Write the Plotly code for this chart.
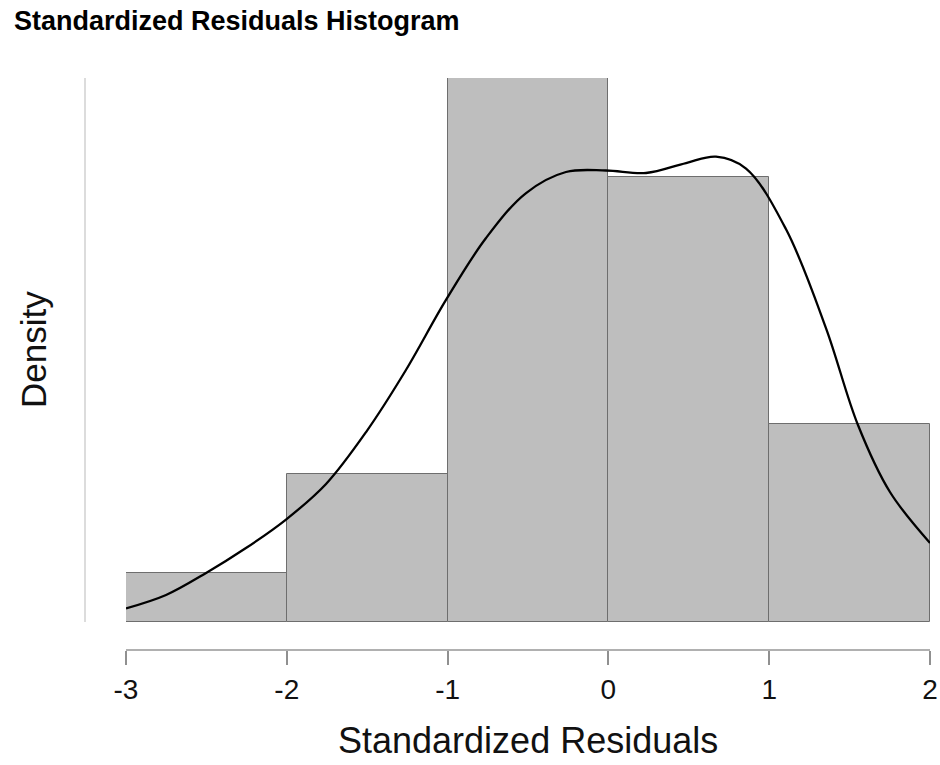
import plotly.graph_objects as go

# Histogram bins (standardized residuals) and density heights
bin_left = [-3, -2, -1, 0, 1]
bin_width = 1.0
density = [0.0357, 0.1071, 0.3929, 0.3214, 0.1429]

# Kernel density curve
kde_x = [-3.000, -2.751, -2.502, -2.254, -2.005, -1.756, -1.507, -1.259, -1.010,
         -0.761, -0.512, -0.264, -0.015, 0.234, 0.483, 0.669, 0.856, 1.104,
         1.353, 1.552, 1.751, 2.000]
kde_y = [0.0098, 0.0195, 0.0354, 0.0534, 0.0740, 0.0997, 0.1372, 0.1820, 0.2326,
         0.2773, 0.3098, 0.3250, 0.3261, 0.3243, 0.3315, 0.3361, 0.3275, 0.2838,
         0.2123, 0.1423, 0.0939, 0.0571]

x_ticks = [-3, -2, -1, 0, 1, 2]

FONT = "Liberation Sans, Arial, sans-serif"

fig = go.Figure()
fig.add_trace(go.Bar(
    x=[b + bin_width / 2 for b in bin_left], y=density, width=bin_width,
    marker=dict(color="#bebebe", line=dict(color="#6e6e6e", width=1)),
    hoverinfo="skip", showlegend=False,
))
fig.add_trace(go.Scatter(
    x=kde_x, y=kde_y, mode="lines",
    line=dict(color="black", width=2.3, shape="spline", smoothing=1.0),
    hoverinfo="skip", showlegend=False,
))

W, H = 940, 765
L, R, T, B = 85, 10, 78, 115
pw = W - L - R
ph = H - T - B

fig.update_layout(
    width=W, height=H,
    margin=dict(l=L, r=R, t=T, b=B, pad=0, autoexpand=False),
    paper_bgcolor="white", plot_bgcolor="white",
    bargap=0,
    font=dict(family=FONT, color="#111111"),
    title=dict(text="<b>Standardized Residuals Histogram</b>",
               x=14 / W, xanchor="left", xref="container",
               y=1 - 21 / H, yanchor="middle", yref="container",
               font=dict(size=27, family=FONT, color="#000000")),
    xaxis=dict(
        domain=[41 / pw, 1], range=[-3, 2], anchor="free", position=0,
        automargin=False,
        tickvals=x_ticks, ticktext=[str(v) for v in x_ticks],
        ticks="outside", ticklen=14, tickwidth=1.5, tickcolor="#909090",
        showline=True, linecolor="#b0b0b0", linewidth=2,
        showgrid=False, zeroline=False,
        tickfont=dict(size=28, family=FONT, color="#111111"),
    ),
    yaxis=dict(
        domain=[28 / ph, 1], range=[0, max(density)], anchor="free", position=0,
        automargin=False,
        showticklabels=False, ticks="",
        showline=True, linecolor="#dcdcdc", linewidth=2,
        showgrid=False, zeroline=False,
    ),
    annotations=[
        dict(text="Standardized Residuals", xref="x", yref="paper",
             x=-0.5, y=(650 - 740) / ph, xanchor="center", yanchor="middle",
             showarrow=False, font=dict(size=36, family=FONT, color="#111111")),
        dict(text="Density", xref="paper", yref="paper",
             x=(33 - L) / pw, y=(650 - 350) / ph, xanchor="center", yanchor="middle",
             textangle=-90, showarrow=False,
             font=dict(size=35, family=FONT, color="#111111")),
    ],
)

fig.write_html("out.html")
